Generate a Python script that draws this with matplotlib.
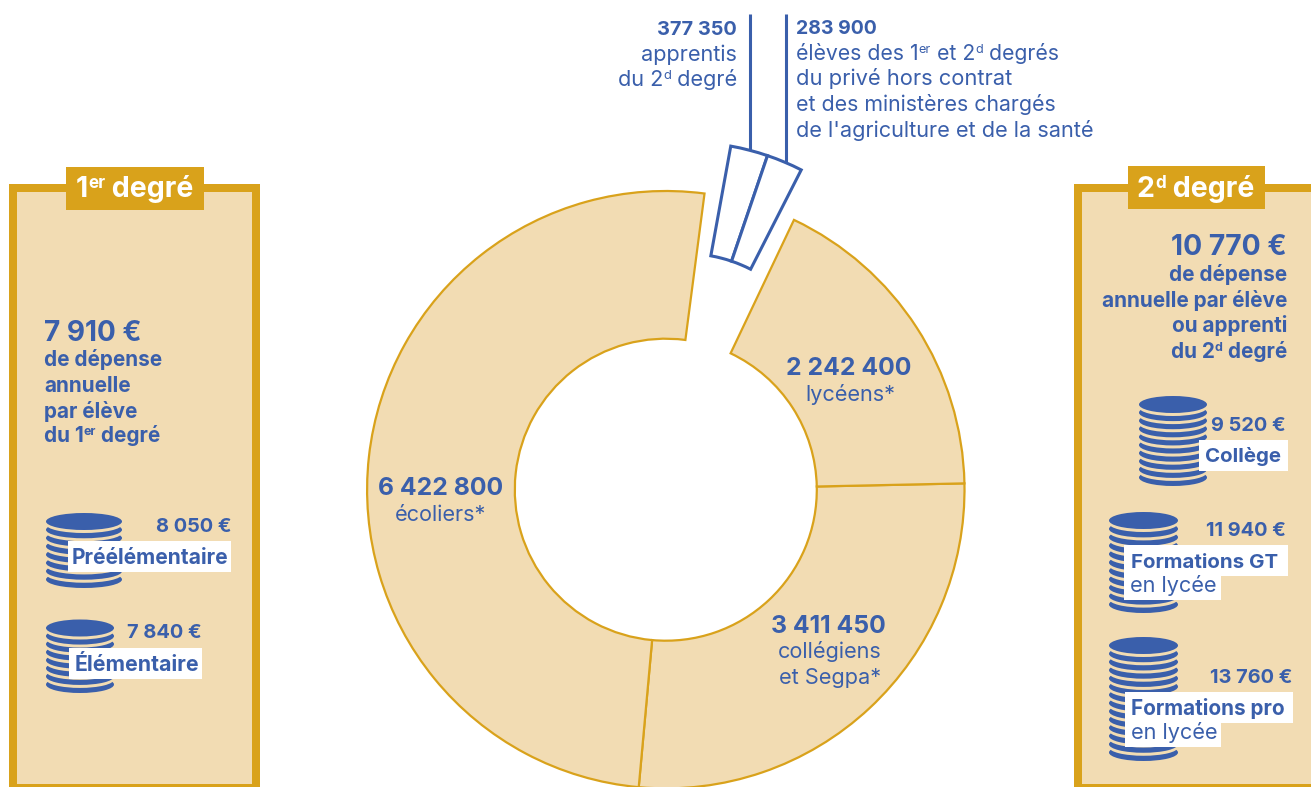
import matplotlib
matplotlib.use("Agg")
import matplotlib.pyplot as plt
from matplotlib.patches import Wedge, Rectangle, Ellipse

W, H = 1311, 787
BLUE = "#3A5FAB"
TAN = "#F2DCB3"
GOLD = "#D9A21B"
FONT = "Inter"

# Data
donut_labels = ["collégiens et Segpa", "lycéens", "apprentis", "autres", "écoliers"]
donut_values = [3411450, 2242400, 377350, 283900, 6422800]
detached_sweeps = [8.5, 8.2]
costs_first = ["8 050 €", "7 840 €"]
coins_first = [8, 8]
costs_second = ["9 520 €", "11 940 €", "13 760 €"]
coins_second = [10, 11, 14]

fig = plt.figure(figsize=(W / 100, H / 100), dpi=100, facecolor="white")
ax = fig.add_axes([0, 0, 1, 1])
ax.set_xlim(0, W)
ax.set_ylim(H, 0)
ax.axis("off")
renderer = fig.canvas.get_renderer()


def measure(s, fs, weight):
    t4 = ax.text(0, 0, "|" + s + "|", fontsize=fs, weight=weight, family=FONT)
    t5 = ax.text(0, 0, "||", fontsize=fs, weight=weight, family=FONT)
    w = t4.get_window_extent(renderer).width - t5.get_window_extent(renderer).width
    t4.remove()
    t5.remove()
    return w


def runs(x, y, parts, size, color=BLUE, weight="normal", ha="left"):
    """Draw text runs on one baseline; a part starting with ^ is superscript."""
    items = []
    for p in parts:
        sup = p.startswith("^")
        s = p[1:] if sup else p
        fs = (size * 0.6 if sup else size) * 0.72
        items.append((s, sup, fs, measure(s, fs, weight)))
    total = sum(i[3] for i in items)
    cx = x - total if ha == "right" else x - total / 2 if ha == "center" else x
    for s, sup, fs, w in items:
        ax.text(cx, y - (size * 0.33 if sup else 0), s, fontsize=fs, color=color, weight=weight,
                family=FONT, va="baseline", ha="left", zorder=10)
        cx += w


def panel(x0, x1, open_right=False):
    right = W if open_right else x1
    ax.add_patch(Rectangle((x0, 184), right - x0, H - 184, fc=GOLD, ec="none", zorder=1))
    inner = W if open_right else x1 - 8
    ax.add_patch(Rectangle((x0 + 8, 192), inner - x0 - 8, 784 - 192, fc=TAN, ec="none", zorder=2))


panel(9, 260)
panel(1074, W, open_right=True)
ax.add_patch(Rectangle((66, 167), 138, 43, fc=GOLD, ec="none", zorder=4))
ax.add_patch(Rectangle((1128, 166), 137, 43, fc=GOLD, ec="none", zorder=4))
runs(76, 197, ["1", "^er", " degré"], 28.5, color="white", weight="bold")
runs(1137, 197, ["2", "^d", " degré"], 28.5, color="white", weight="bold")

# Donut: the sweep of each attached piece follows its value
CX, CY, R, RIN = 665.8, 489.7, 298.7, 151
total = sum(donut_values)
ring_start = -95.2
ring_gap_end = 82.55
angle = ring_start
for lab, val in zip(donut_labels, donut_values):
    sweep = val / total * 360
    if lab in ("collégiens et Segpa", "lycéens"):
        ax.add_patch(Wedge((CX, CY), R, -(angle + sweep), -angle, width=R - RIN,
                           fc=TAN, ec=GOLD, lw=1.6, zorder=5))
    angle += sweep
ax.add_patch(Wedge((CX, CY), R, -(ring_start + 360), -ring_gap_end, width=R - RIN,
                   fc=TAN, ec=GOLD, lw=1.6, zorder=5))

# Detached segments
a = 79.7
for sw in detached_sweeps:
    ax.add_patch(Wedge((685, 398), 256, -a, -(a - sw), width=111.5,
                       fc="white", ec=BLUE, lw=2.2, zorder=6))
    a -= sw

ax.plot([750, 750], [14, 150], color=BLUE, lw=2.2, zorder=5, solid_capstyle="butt")
ax.plot([786, 786], [14, 162], color=BLUE, lw=2.2, zorder=5, solid_capstyle="butt")

# Top labels
runs(737, 35, ["377 350"], 20, weight="bold", ha="right")
runs(737, 61, ["apprentis"], 21.7, ha="right")
runs(737, 86, ["du 2", "^d", " degré"], 21.7, ha="right")
runs(796, 34, ["283 900"], 19.5, weight="bold")
runs(796, 60, ["élèves des 1", "^er", " et 2", "^d", " degrés"], 21.2)
runs(796, 85, ["du privé hors contrat"], 21.9)
runs(796, 111, ["et des ministères chargés"], 21.3)
runs(796, 137, ["de l'agriculture et de la santé"], 21.7)

# Donut labels
runs(441, 495, ["6 422 800"], 24.7, weight="bold", ha="center")
runs(441, 521, ["écoliers*"], 21.7, ha="center")
runs(849, 375, ["2 242 400"], 24.7, weight="bold", ha="center")
runs(850, 401, ["lycéens*"], 21.7, ha="center")
runs(828, 633, ["3 411 450"], 24.7, weight="bold", ha="center")
runs(830, 658, ["collégiens"], 21.7, ha="center")
runs(830, 684, ["et Segpa*"], 21.7, ha="center")

# Panel headlines
runs(44, 341, ["7 910 €"], 28, weight="bold")
runs(44, 366, ["de dépense"], 20.7, weight="bold")
runs(44, 392, ["annuelle"], 20.7, weight="bold")
runs(44, 418, ["par élève"], 20.7, weight="bold")
runs(44, 442, ["du 1", "^er", " degré"], 20.7, weight="bold")
runs(1287, 255, ["10 770 €"], 28.3, weight="bold", ha="right")
runs(1287, 281, ["de dépense"], 20.7, weight="bold", ha="right")
runs(1287, 307, ["annuelle par élève"], 20.8, weight="bold", ha="right")
runs(1287, 332, ["ou apprenti"], 20.7, weight="bold", ha="right")
runs(1287, 358, ["du 2", "^d", " degré"], 20.7, weight="bold", ha="right")


def stack(x0, x1, top, bottom, n):
    h = 17
    cx = (x0 + x1) / 2
    w = x1 - x0
    step = (bottom - top - h) / (n - 1)
    for i in range(n):
        y = bottom - h / 2 - i * step
        ax.add_patch(Ellipse((cx, y), w, h, fc=BLUE, ec="none", zorder=7))
        if i < n - 1:
            ax.add_patch(Ellipse((cx, y - (step - 3.0)), w, h, fc=TAN, ec="none", zorder=7))


def box(x0, x1, y0, y1):
    ax.add_patch(Rectangle((x0, y0), x1 - x0, y1 - y0, fc="white", ec="none", zorder=8))


stack(46, 122, 513, 588, coins_first[0])
stack(46, 114, 619.5, 693, coins_first[1])
stack(1139, 1207, 396, 486, coins_second[0])
stack(1109, 1178, 512, 613, coins_second[1])
stack(1109, 1178, 637, 761, coins_second[2])

runs(231, 532, [costs_first[0]], 20, weight="bold", ha="right")
box(68, 231, 541, 572)
runs(72, 564, ["Préélémentaire"], 21, weight="bold")
runs(202, 638, [costs_first[1]], 20, weight="bold", ha="right")
box(69, 202, 648, 679)
runs(75, 671, ["Élémentaire"], 21.3, weight="bold")

runs(1286, 431, [costs_second[0]], 20, weight="bold", ha="right")
box(1199, 1288, 440, 471)
runs(1205, 462, ["Collège"], 20.5, weight="bold")
runs(1286, 536, [costs_second[1]], 20, weight="bold", ha="right")
box(1124, 1288, 545, 576)
box(1124, 1221, 576, 600)
runs(1131, 568, ["Formations GT"], 20.5, weight="bold")
runs(1130, 592, ["en lycée"], 21.7)
runs(1292, 683, [costs_second[2]], 20, weight="bold", ha="right")
box(1125, 1293, 692, 723)
box(1125, 1221, 723, 747)
runs(1131, 715, ["Formations pro"], 20.7, weight="bold")
runs(1131, 739, ["en lycée"], 21.7)

fig.savefig("out.png", dpi=100, facecolor="white")
